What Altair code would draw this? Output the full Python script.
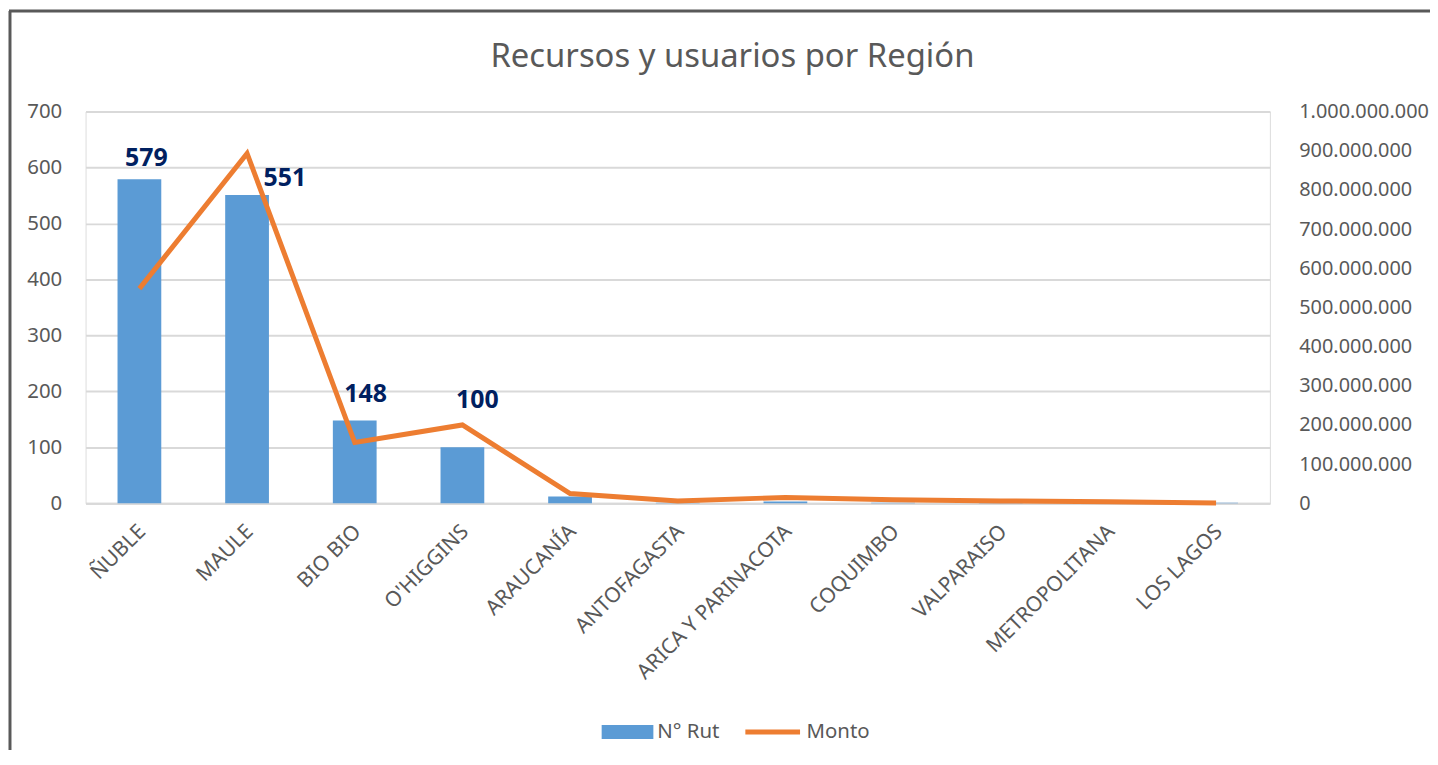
import altair as alt
import pandas as pd

regions = ["ÑUBLE", "MAULE", "BIO BIO", "O'HIGGINS", "ARAUCANÍA", "ANTOFAGASTA",
           "ARICA Y PARINACOTA", "COQUIMBO", "VALPARAISO", "METROPOLITANA", "LOS LAGOS"]
n_rut = [579, 551, 148, 100, 12, 1, 3, 1, 1, 1, 1]
monto = [548000000, 893000000, 155000000, 200000000, 25000000, 6000000,
         15000000, 9000000, 6000000, 4000000, 1000000]
series_names = ["N° Rut", "Monto"]

df = pd.DataFrame({"region": regions, "rut": n_rut, "monto": monto})

FONT = "Noto Sans"
GRAY = "#595959"
BLUE = "#5B9BD5"
ORANGE = "#ED7D31"
NAVY = "#002060"

base = alt.Chart(df)

x_enc = alt.X(
    "region:N", sort=regions,
    scale=alt.Scale(paddingInner=0.6, paddingOuter=0.3),
    axis=alt.Axis(title=None, labelAngle=-45, labelAlign="right", labelBaseline="middle",
                  labelFontSize=21, labelColor=GRAY, labelFont=FONT, labelPadding=25,
                  labelOffset=3, ticks=False, domain=True, domainColor="#D9D9D9",
                  domainWidth=2, labelOverlap=False, labelLimit=0),
)

bars = base.transform_calculate(serie=f"'{series_names[0]}'").mark_bar(size=44).encode(
    x=x_enc,
    y=alt.Y("rut:Q", scale=alt.Scale(domain=[0, 700], nice=False),
            axis=alt.Axis(title=None, values=list(range(0, 701, 100)), grid=True,
                          gridColor="#D9D9D9", gridWidth=2, domain=False, ticks=False,
                          labelFontSize=20.5, labelColor=GRAY, labelFont=FONT, labelPadding=24)),
    fill=alt.Fill("serie:N", scale=alt.Scale(domain=[series_names[0]], range=[BLUE]),
                  legend=alt.Legend(title=None, orient="none", legendX=519, legendY=598,
                                    symbolType="M-1,-0.27H1V0.27H-1Z", symbolSize=2704,
                                    symbolStrokeWidth=0, labelFontSize=20.5, labelColor=GRAY,
                                    labelFont=FONT, labelOffset=4, padding=0)),
)

line = base.transform_calculate(serie=f"'{series_names[1]}'").mark_line(
    strokeWidth=5, strokeJoin="miter").encode(
    x=x_enc,
    y=alt.Y("monto:Q", scale=alt.Scale(domain=[0, 1000000000], nice=False),
            axis=alt.Axis(title=None, orient="right", values=[i * 100000000 for i in range(11)],
                          format=",.0f", grid=False, domain=False, ticks=False,
                          labelFontSize=20, labelColor=GRAY, labelFont=FONT, labelPadding=29)),
    stroke=alt.Stroke("serie:N", scale=alt.Scale(domain=[series_names[1]], range=[ORANGE]),
                      legend=alt.Legend(title=None, orient="none", legendX=661, legendY=594,
                                        symbolType="stroke", symbolSize=3025,
                                        symbolStrokeWidth=5, labelFontSize=20.5,
                                        labelColor=GRAY, labelFont=FONT, labelOffset=4,
                                        padding=0)),
)

label_offsets = {"ÑUBLE": (7, -21), "MAULE": (38, -17), "BIO BIO": (11, -27), "O'HIGGINS": (15, -48)}
label_layers = []
for reg, (dx, dy) in label_offsets.items():
    label_layers.append(
        base.transform_filter(alt.datum.region == reg).mark_text(
            font=FONT, fontSize=25, fontWeight="bold", color=NAVY, dx=dx, dy=dy,
            baseline="middle", align="center"
        ).encode(x=alt.X("region:N", sort=regions), y=alt.Y("rut:Q"), text=alt.Text("rut:Q"))
    )

frame_df = alt.Chart(pd.DataFrame({"f": [0]}))
frame_left = frame_df.mark_rule(color="#595959", strokeWidth=3).encode(
    x=alt.value(-76), y=alt.value(-101), y2=alt.value(700))
frame_top = frame_df.mark_rule(color="#595959", strokeWidth=3).encode(
    x=alt.value(-77), x2=alt.value(1400), y=alt.value(-101))

left_layer = alt.layer(bars, *label_layers)
chart = alt.layer(left_layer, line, frame_left, frame_top).resolve_scale(
    y="independent", fill="independent", stroke="independent"
).properties(
    width=1191, height=394,
    padding={"left": 78, "top": 102, "right": 161, "bottom": 246},
    autosize=alt.AutoSizeParams(type="none"),
    title=alt.TitleParams("Recursos y usuarios por Región", fontSize=33, color=GRAY,
                          font=FONT, fontWeight="normal", anchor="middle", dx=55,
                          offset=0, dy=65),
).configure_view(stroke=None).configure(
    locale={"number": {"decimal": ",", "thousands": ".", "grouping": [3], "currency": ["$", ""]}}
)

chart.save("out.html", embed_options={"renderer": "svg", "actions": False})
